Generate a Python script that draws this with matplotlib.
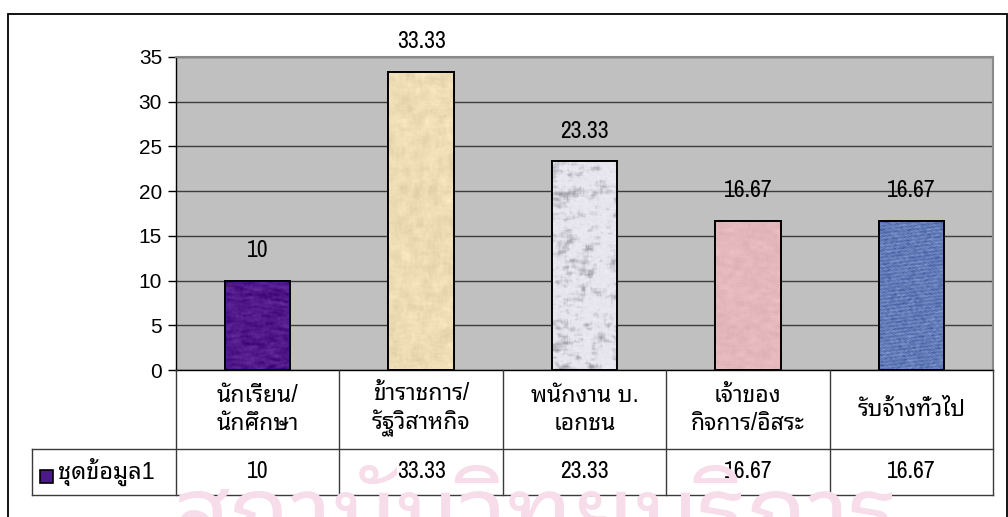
import numpy as np
import matplotlib
matplotlib.use("Agg")
import matplotlib.pyplot as plt
from matplotlib import font_manager
from matplotlib.patches import Rectangle
from matplotlib.transforms import blended_transform_factory

# ข้อมูลอาชีพของกลุ่มตัวอย่าง (ร้อยละ)
categories = ["นักเรียน/\nนักศึกษา", "ข้าราชการ/\nรัฐวิสาหกิจ", "พนักงาน บ.\nเอกชน",
              "เจ้าของ\nกิจการ/อิสระ", "รับจ้างทั่วไป"]
values = [10, 33.33, 23.33, 16.67, 16.67]
series_name = "ชุดข้อมูล1"
y_ticks = [0, 5, 10, 15, 20, 25, 30, 35]

installed = {f.name for f in font_manager.fontManager.ttflist}


def pick(*names):
    for n in names:
        if n in installed:
            return n
    return "DejaVu Sans"


latin = pick("Liberation Sans", "Arimo", "Arial")
narrow = pick("Liberation Sans Narrow", "Arial Narrow", "Archivo Narrow", latin)
thai = pick("Noto Sans Thai Looped", "Sarabun", "Noto Sans Thai", "IBM Plex Sans Thai Looped", "Anuphan")
fam_thai = [latin, thai, "DejaVu Sans"]
fam_num = [narrow, thai, "DejaVu Sans"]

W, H = 1008, 517
fig = plt.figure(figsize=(W / 100, H / 100), dpi=100)
fig.patch.set_facecolor("white")

# ลายน้ำด้านล่าง
fig.text(535 / W, 1 - 548 / H, "สถาบันวิทยบริการ", fontsize=72, color="#f7dcea",
         ha="center", va="baseline", family=[thai], zorder=0)

# กรอบนอกของแผนภูมิ
fig.add_artist(Rectangle((8 / W, -0.05), 999 / W, 1 - 14 / H + 0.05, transform=fig.transFigure,
                         fill=False, edgecolor="black", lw=1.3, zorder=1))

ax = fig.add_axes([176 / W, 1 - 370 / H, 817 / W, 313 / H])
ax.set_facecolor("#c0c0c0")
x = np.arange(len(values))

# พื้นผิวของแท่ง
rng = np.random.default_rng(7)


def smooth_noise(h, w, k):
    n = rng.random((h + 2 * k, w + 2 * k))
    ker = np.ones(2 * k + 1) / (2 * k + 1)
    n = np.apply_along_axis(lambda r: np.convolve(r, ker, mode="same"), 0, n)
    n = np.apply_along_axis(lambda r: np.convolve(r, ker, mode="same"), 1, n)
    n = n[k:k + h, k:k + w]
    return (n - n.min()) / (n.max() - n.min() + 1e-9)


def mottled(base, amp, h=300, w=70, k=4):
    a = smooth_noise(h, w, k) - 0.5
    b = smooth_noise(h, w, 1) - 0.5
    t = np.array(base, float)[None, None, :] / 255 + (amp * a + amp * 0.4 * b)[..., None]
    return np.clip(t, 0, 1)


def marble(h=300, w=70):
    t = np.ones((h, w, 3)) * np.array([232, 230, 238]) / 255
    blot = 0.6 * smooth_noise(h, w, 6) + 0.4 * smooth_noise(h, w, 2)
    dark = np.clip((blot - 0.5) * 2.5, 0, 1)
    t -= dark[..., None] * 0.4
    t += (smooth_noise(h, w, 1) - 0.5)[..., None] * 0.06
    return np.clip(t, 0, 1)


def denim(h=300, w=70):
    yy, xx = np.mgrid[0:h, 0:w]
    weave = 0.5 + 0.3 * np.sin(xx * 1.6) * np.sin(yy * 1.3) + 0.2 * np.sin(yy * 0.9 + xx * 0.2)
    n = smooth_noise(h, w, 1)
    v = 0.5 * weave + 0.5 * n
    dark = np.array([30, 55, 130]) / 255
    light = np.array([170, 195, 240]) / 255
    return np.clip(dark + (light - dark) * v[..., None], 0, 1)


base_colors = ["#4b1a86", "#eedcb3", "#e4e2ea", "#e4b9bc", "#5a7dc0"]
textures = [
    mottled((78, 22, 135), 0.22),
    mottled((238, 220, 180), 0.12),
    marble(),
    mottled((228, 184, 188), 0.08),
    denim(),
]

bars = ax.bar(x, values, width=0.4, color=base_colors, edgecolor="black", lw=1.4, zorder=2)
for bar, tex in zip(bars, textures):
    x0, y0 = bar.get_x(), bar.get_y()
    im = ax.imshow(tex, extent=(x0, x0 + bar.get_width(), y0, y0 + bar.get_height()),
                   aspect="auto", interpolation="bilinear", zorder=2.5)
    im.set_clip_path(bar)
ax.bar(x, values, width=0.4, fill=False, edgecolor="black", lw=1.4, zorder=3)

ax.bar_label(bars, labels=[f"{v:g}" for v in values], padding=14, fontsize=17,
             family=fam_num, color="black")

ax.set_xlim(-0.5, len(values) - 0.5)
ax.set_ylim(0, 35)
ax.set_yticks(y_ticks)
ax.set_xticks([])
ax.yaxis.grid(True, color="#3c3c3c", lw=1)
ax.set_axisbelow(True)
ax.tick_params(axis="y", direction="out", length=6, width=1, pad=4, labelsize=15)
for t in ax.get_yticklabels():
    t.set_family(fam_thai)
for s in ("left", "bottom"):
    ax.spines[s].set_color("black")
    ax.spines[s].set_linewidth(1)
for s in ("top", "right"):
    ax.spines[s].set_color("#8a8a8a")
    ax.spines[s].set_linewidth(1.5)

# ตารางข้อมูลใต้แผนภูมิ
tr = blended_transform_factory(ax.transData, ax.transAxes)
row1 = (370 - 449) / 313
row2 = (370 - 495) / 313
key_left = -0.5 - (176 - 32) / 163.4
line_kw = dict(color="#3a3a3a", lw=1, transform=tr, clip_on=False, zorder=4)
edges = np.arange(len(values) + 1) - 0.5
for e in edges:
    ax.plot([e, e], [0, row2], **line_kw)
ax.plot([key_left, key_left], [row1, row2], **line_kw)
for r in (row1, row2):
    ax.plot([key_left, edges[-1]], [r, r], **line_kw)

for xi, cat, v in zip(x, categories, values):
    ax.text(xi, row1 / 2, cat, transform=tr, ha="center", va="center", fontsize=16.5,
            family=fam_thai, linespacing=1.3, clip_on=False)
    ax.text(xi, (row1 + row2) / 2, f"{v:g}", transform=tr, ha="center", va="center",
            fontsize=17, family=fam_num, clip_on=False)

key_x = -0.5 - (176 - 40) / 163.4
ax.add_patch(Rectangle((key_x, (370 - 483) / 313), 13 / 163.4, 13 / 313, transform=tr,
                       facecolor="#4b1a86", edgecolor="black", lw=1.2, clip_on=False, zorder=5))
ax.text(-0.5 - (176 - 58) / 163.4, (row1 + row2) / 2, series_name, transform=tr,
        ha="left", va="center", fontsize=17, family=fam_thai, clip_on=False)

fig.savefig("out.png", dpi=100)
